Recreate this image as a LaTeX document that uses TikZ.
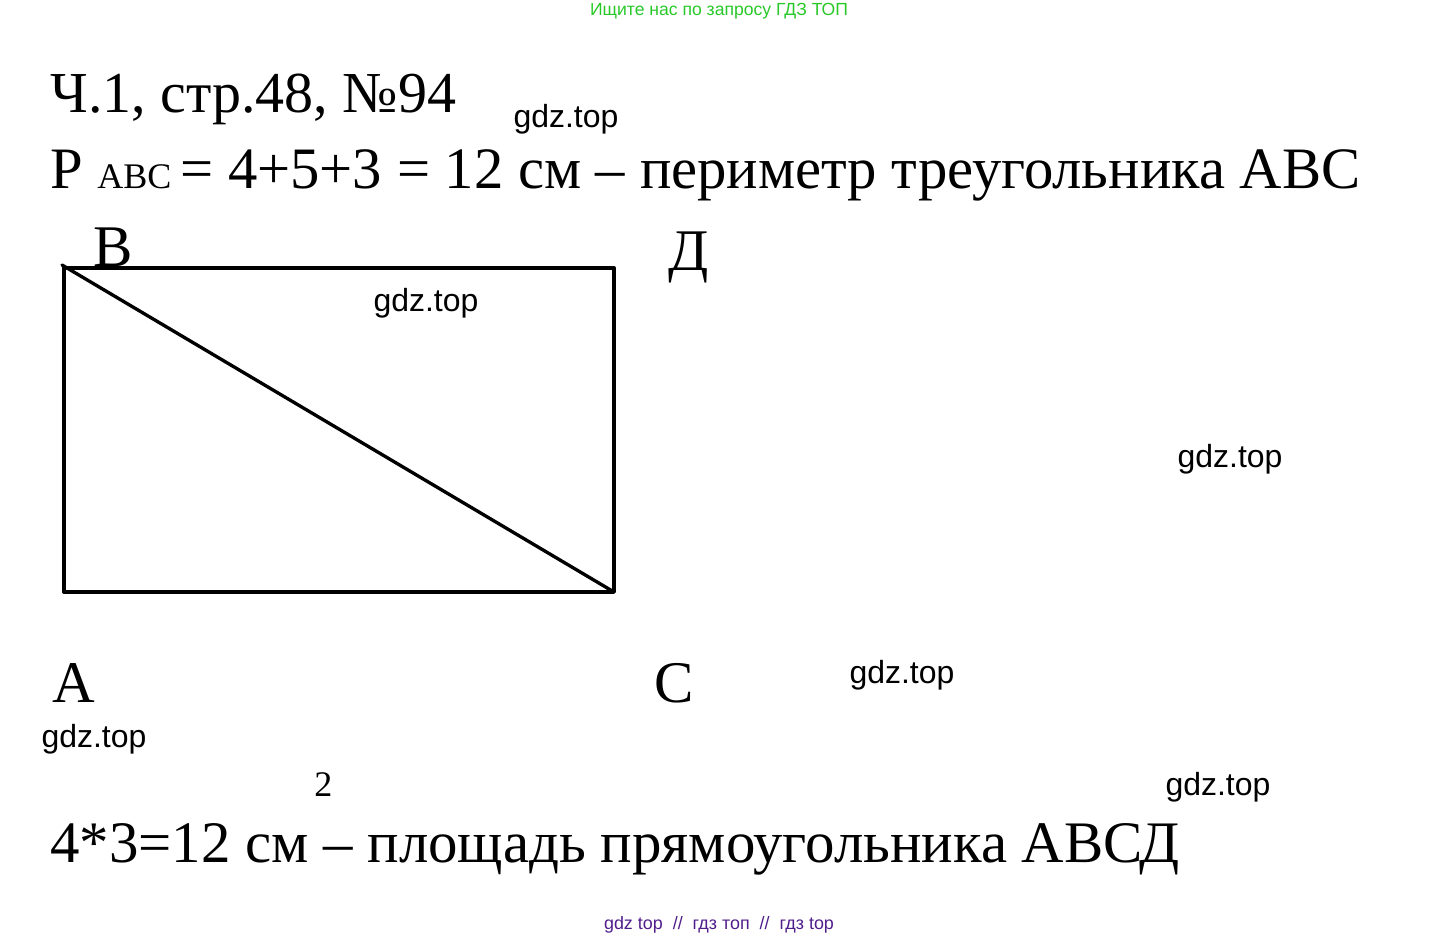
\documentclass[tikz,border=0pt]{standalone}
\usepackage{fontspec}
\setmainfont{Liberation Serif}
\newfontfamily\wmfont{Liberation Sans}
\definecolor{topgreen}{RGB}{40,200,40}
\definecolor{botpurple}{RGB}{80,30,140}
\newcommand{\pxfont}[1]{\fontsize{#1pt}{#1pt}\selectfont}
\begin{document}
\begin{tikzpicture}[x=0.02cm,y=-0.02cm,
  big/.style={anchor=base west,inner sep=0pt,font=\pxfont{33.4}},
  lbl/.style={anchor=base west,inner sep=0pt,font=\pxfont{33.6}},
  small/.style={anchor=base west,inner sep=0pt,font=\pxfont{20.5}},
  wm/.style={inner sep=0pt,font=\wmfont\pxfont{18.2}},
  edge/.style={line width=1.9pt,line cap=round,line join=round}]
\useasboundingbox (0,0) rectangle (1441,940);
\node[inner sep=0pt,font=\wmfont\pxfont{10},text=topgreen] (top) at (719,11) {Ищите нас по запросу ГДЗ ТОП};
\node[inner sep=0pt,font=\wmfont\pxfont{10.2},text=botpurple] (bot) at (719,925) {gdz top \ // \ гдз топ \ // \ гдз top};
\node[big,font=\pxfont{33}] (t1) at (50,112) {Ч.1, стр.48, №94};
\node[big] (t2a) at (50,188) {Р};
\node[small] (t2b) at (97,188) {АВС};
\node[big] (t2c) at (180,188) {= 4+5+3 = 12 см – периметр треугольника АВС};
\node[small] (sq) at (314,796) {2};
\node[big,font=\pxfont{33.5}] (t3) at (50,862) {4*3=12 см – площадь прямоугольника АВСД};
\coordinate (A) at (64,592);
\coordinate (B) at (64,268);
\coordinate (C) at (614,592);
\coordinate (D) at (614,268);
\coordinate (Bt) at (62,265);
\draw[edge] (A) -- (B) -- (D) -- (C) -- cycle;
\draw[edge] (Bt) -- (C);
\node[lbl] (lB) at (93,266) {В};
\node[lbl] (lD) at (668,270) {Д};
\node[lbl] (lA) at (52,702) {А};
\node[lbl] (lC) at (654,702) {С};
\node[wm] (w1) at (566,119) {gdz.top};
\node[wm] (w2) at (426,303) {gdz.top};
\node[wm] (w3) at (1230,459) {gdz.top};
\node[wm] (w4) at (902,675) {gdz.top};
\node[wm] (w5) at (94,739) {gdz.top};
\node[wm] (w6) at (1218,787) {gdz.top};
\end{tikzpicture}
\end{document}
